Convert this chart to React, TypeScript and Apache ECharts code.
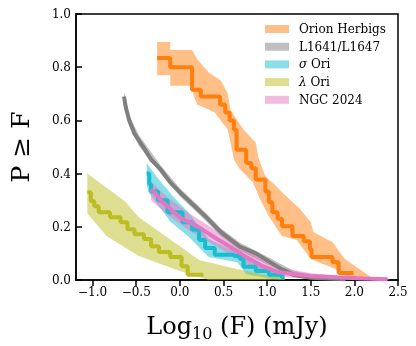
import React, { useEffect, useRef } from "react";
import * as echarts from "echarts";

const FONT = "'DejaVu Serif', serif";

const NAMES = ["Orion Herbigs", "L1641/L1647", "σ Ori", "λ Ori", "NGC 2024"];
const LINE_COLORS = ["#ff7f0e", "#7f7f7f", "#17becf", "#bcbd22", "#e377c2"];
const BAND_COLORS = [
  "rgba(255,127,14,0.5)",
  "rgba(127,127,127,0.5)",
  "rgba(23,190,207,0.5)",
  "rgba(188,189,34,0.5)",
  "rgba(227,119,194,0.5)",
];

const X_TICKS = [-1.0, -0.5, 0.0, 0.5, 1.0, 1.5, 2.0, 2.5];

// Orion Herbigs
const ORION_LINE = [
  [-0.26, 0.835], [-0.11, 0.8], [0.14, 0.715], [0.24, 0.69], [0.46, 0.66], [0.52, 0.63],
  [0.57, 0.6], [0.62, 0.565], [0.65, 0.49], [0.76, 0.44], [0.82, 0.42], [0.87, 0.378],
  [0.98, 0.333], [1.02, 0.292], [1.06, 0.255], [1.12, 0.23], [1.17, 0.202], [1.29, 0.165],
  [1.42, 0.146], [1.49, 0.116], [1.51, 0.086], [1.75, 0.067], [1.82, 0.026], [1.99, 0.026],
];
const ORION_UP = [
  [-0.26, 0.895], [-0.11, 0.895], [-0.11, 0.865], [0.14, 0.865], [0.2, 0.83], [0.33, 0.78],
  [0.47, 0.75], [0.55, 0.7], [0.58, 0.64], [0.73, 0.565], [0.87, 0.517], [0.9, 0.46],
  [0.98, 0.39], [1.06, 0.367], [1.17, 0.33], [1.38, 0.266], [1.5, 0.217], [1.53, 0.18],
  [1.75, 0.142], [1.89, 0.079], [2.24, 0.0],
];
const ORION_LO = [
  [-0.26, 0.77], [-0.11, 0.77], [-0.11, 0.73], [0.14, 0.73], [0.16, 0.69], [0.2, 0.66],
  [0.4, 0.63], [0.55, 0.565], [0.62, 0.453], [0.69, 0.415], [0.84, 0.367], [0.91, 0.31],
  [1.02, 0.24], [1.17, 0.165], [1.34, 0.15], [1.5, 0.079], [1.64, 0.06], [1.78, 0.041],
  [1.86, 0.022], [2.0, 0.0],
];

// L1641/L1647
const L1641_LINE = [
  [-0.64, 0.69], [-0.62, 0.65], [-0.58, 0.6], [-0.52, 0.55], [-0.47, 0.525], [-0.4, 0.49],
  [-0.33, 0.453], [-0.22, 0.416], [-0.11, 0.367], [0.0, 0.33], [0.11, 0.296], [0.29, 0.24],
  [0.47, 0.18], [0.69, 0.125], [0.87, 0.1], [1.02, 0.07], [1.17, 0.04], [1.3, 0.02],
  [1.5, 0.008], [1.9, 0.003],
];
const L1641_UP = [
  [-0.64, 0.71], [-0.58, 0.62], [-0.47, 0.545], [-0.22, 0.43], [0.0, 0.345], [0.29, 0.255],
  [0.47, 0.195], [0.69, 0.14], [1.02, 0.085], [1.3, 0.035], [1.6, 0.012], [2.0, 0.004],
];
const L1641_LO = [
  [-0.64, 0.67], [-0.58, 0.58], [-0.47, 0.505], [-0.22, 0.4], [0.0, 0.315], [0.29, 0.225],
  [0.47, 0.165], [0.69, 0.11], [1.02, 0.055], [1.3, 0.01], [1.6, 0.0], [2.0, 0.0],
];

// sigma Ori
const SIGMA_LINE = [
  [-0.38, 0.4], [-0.35, 0.36], [-0.33, 0.333], [-0.25, 0.3], [-0.14, 0.255], [0.03, 0.217],
  [0.14, 0.19], [0.22, 0.15], [0.29, 0.12], [0.4, 0.095], [0.62, 0.09], [0.69, 0.079],
  [0.73, 0.05], [0.87, 0.034], [1.02, 0.02], [1.17, 0.01], [1.2, 0.01],
];
const SIGMA_UP = [
  [-0.38, 0.44], [-0.27, 0.39], [-0.08, 0.315], [0.11, 0.25], [0.33, 0.154], [0.55, 0.12],
  [0.66, 0.11], [0.76, 0.079], [1.06, 0.04], [1.2, 0.01],
];
const SIGMA_LO = [
  [-0.38, 0.36], [-0.36, 0.33], [-0.29, 0.3], [-0.11, 0.22], [0.11, 0.16], [0.33, 0.086],
  [0.66, 0.067], [0.76, 0.022], [1.06, 0.004], [1.2, 0.0],
];

// lambda Ori
const LAMBDA_LINE = [
  [-1.06, 0.33], [-1.02, 0.296], [-0.98, 0.277], [-0.93, 0.255], [-0.8, 0.236], [-0.68, 0.217],
  [-0.6, 0.191], [-0.52, 0.172], [-0.41, 0.154], [-0.33, 0.127], [-0.24, 0.105], [-0.11, 0.086],
  [0.02, 0.052], [0.09, 0.02], [0.27, 0.02],
];
const LAMBDA_UP = [
  [-1.06, 0.4], [-0.63, 0.296], [-0.47, 0.236], [0.0, 0.127], [0.22, 0.075], [0.6, 0.045],
  [1.2, 0.005],
];
const LAMBDA_LO = [
  [-1.06, 0.25], [-0.84, 0.165], [-0.47, 0.09], [0.0, 0.034], [0.33, 0.0], [1.2, 0.0],
];

// NGC 2024
const NGC_LINE = [
  [-0.33, 0.34], [-0.29, 0.33], [-0.22, 0.3], [-0.14, 0.277], [-0.11, 0.266], [0.03, 0.228],
  [0.11, 0.217], [0.22, 0.198], [0.29, 0.183], [0.4, 0.16], [0.58, 0.124], [0.76, 0.086],
  [0.95, 0.052], [1.12, 0.03], [1.31, 0.022], [1.5, 0.015], [1.8, 0.01], [2.1, 0.006],
  [2.38, 0.003],
];
const NGC_UP = [
  [-0.33, 0.37], [-0.14, 0.31], [0.11, 0.25], [0.4, 0.19], [0.76, 0.11], [1.12, 0.05],
  [1.5, 0.025], [2.0, 0.01], [2.4, 0.005],
];
const NGC_LO = [
  [-0.33, 0.3], [-0.14, 0.245], [0.11, 0.185], [0.4, 0.13], [0.76, 0.06], [1.12, 0.012],
  [1.5, 0.005], [2.0, 0.0], [2.4, 0.0],
];

const GROUPS = [
  { line: ORION_LINE, up: ORION_UP, lo: ORION_LO, step: true },
  { line: L1641_LINE, up: L1641_UP, lo: L1641_LO, step: false },
  { line: SIGMA_LINE, up: SIGMA_UP, lo: SIGMA_LO, step: true },
  { line: LAMBDA_LINE, up: LAMBDA_UP, lo: LAMBDA_LO, step: true },
  { line: NGC_LINE, up: NGC_UP, lo: NGC_LO, step: false },
];

function fmt(v: number) {
  return (v < 0 ? "\u2212" : "") + Math.abs(v).toFixed(1);
}

export default function App() {
  const ref = useRef<HTMLDivElement>(null);
  useEffect(() => {
    if (!ref.current) return;
    const chart = echarts.init(ref.current, null, { renderer: "svg" });
    const series: any[] = [];
    GROUPS.forEach((g, i) => {
      const up = g.up;
      const lo = g.lo;
      series.push({
        type: "custom",
        name: NAMES[i],
        coordinateSystem: "cartesian2d",
        itemStyle: { color: BAND_COLORS[i] },
        data: [up[0]],
        silent: true,
        renderItem: (_p: any, api: any) => {
          const pts = up
            .map((d) => api.coord(d))
            .concat(lo.slice().reverse().map((d) => api.coord(d)));
          return {
            type: "polygon",
            shape: { points: pts },
            style: { fill: BAND_COLORS[i], stroke: "none" },
          };
        },
      });
      series.push({
        type: "line",
        name: NAMES[i] + "_line",
        data: g.line,
        step: g.step ? "end" : false,
        showSymbol: false,
        symbol: "none",
        lineStyle: { color: LINE_COLORS[i], width: 4 },
        itemStyle: { color: LINE_COLORS[i] },
        silent: true,
      });
    });
    chart.setOption({
      animation: false,
      grid: {
        left: 60,
        right: 18,
        top: 14,
        bottom: 65,
        show: true,
        borderColor: "#000",
        borderWidth: 1.5,
        backgroundColor: "transparent",
      },
      legend: {
        data: NAMES,
        orient: "vertical",
        left: 260,
        top: 17,
        icon: "rect",
        itemWidth: 24,
        itemHeight: 8,
        itemGap: 3.7,
        selectedMode: false,
        textStyle: {
          fontFamily: FONT,
          fontSize: 12,
          color: "#000",
          lineHeight: 14,
          padding: [0, 0, 0, 5],
          rich: {
            i: { fontFamily: FONT, fontSize: 12, fontStyle: "italic", color: "#000" },
          },
        },
        formatter: (name: string) => {
          if (name.startsWith("σ") || name.startsWith("λ")) {
            return "{i|" + name[0] + "}" + name.slice(1);
          }
          return name;
        },
      },
      xAxis: {
        type: "value",
        min: -1.19,
        max: 2.5,
        name: "{a|Log}{s|10}{a| (F) (mJy)}",
        nameLocation: "middle",
        nameGap: 31,
        nameTextStyle: {
          rich: {
            a: { fontFamily: FONT, fontSize: 24, color: "#000", lineHeight: 30 },
            s: {
              fontFamily: FONT,
              fontSize: 16,
              color: "#000",
              lineHeight: 12,
              verticalAlign: "bottom",
            },
          },
        },
        axisLine: { show: true, onZero: false, lineStyle: { color: "#000", width: 1.5 } },
        axisTick: {
          show: true,
          inside: false,
          length: 6,
          lineStyle: { color: "#000", width: 1.5 },
          customValues: X_TICKS,
        },
        axisLabel: {
          fontFamily: FONT,
          fontSize: 12,
          color: "#000",
          margin: 6,
          customValues: X_TICKS,
          formatter: (v: number) => fmt(v),
        },
        splitLine: { show: false },
      },
      yAxis: {
        type: "value",
        min: 0,
        max: 1,
        interval: 0.2,
        name: "P \u2265 F",
        nameLocation: "middle",
        nameRotate: 90,
        nameGap: 43,
        nameTextStyle: { fontFamily: FONT, fontSize: 25, color: "#000" },
        axisLine: { show: true, onZero: false, lineStyle: { color: "#000", width: 1.5 } },
        axisTick: {
          show: true,
          inside: true,
          length: 6,
          lineStyle: { color: "#000", width: 1.5 },
        },
        axisLabel: {
          fontFamily: FONT,
          fontSize: 12,
          color: "#000",
          margin: 5,
          formatter: (v: number) => v.toFixed(1),
        },
        splitLine: { show: false },
      },
      series,
    });
    return () => chart.dispose();
  }, []);
  return (
    <div
      ref={ref}
      style={{ position: "fixed", left: 0, top: 0, width: 416, height: 346 }}
    />
  );
}
